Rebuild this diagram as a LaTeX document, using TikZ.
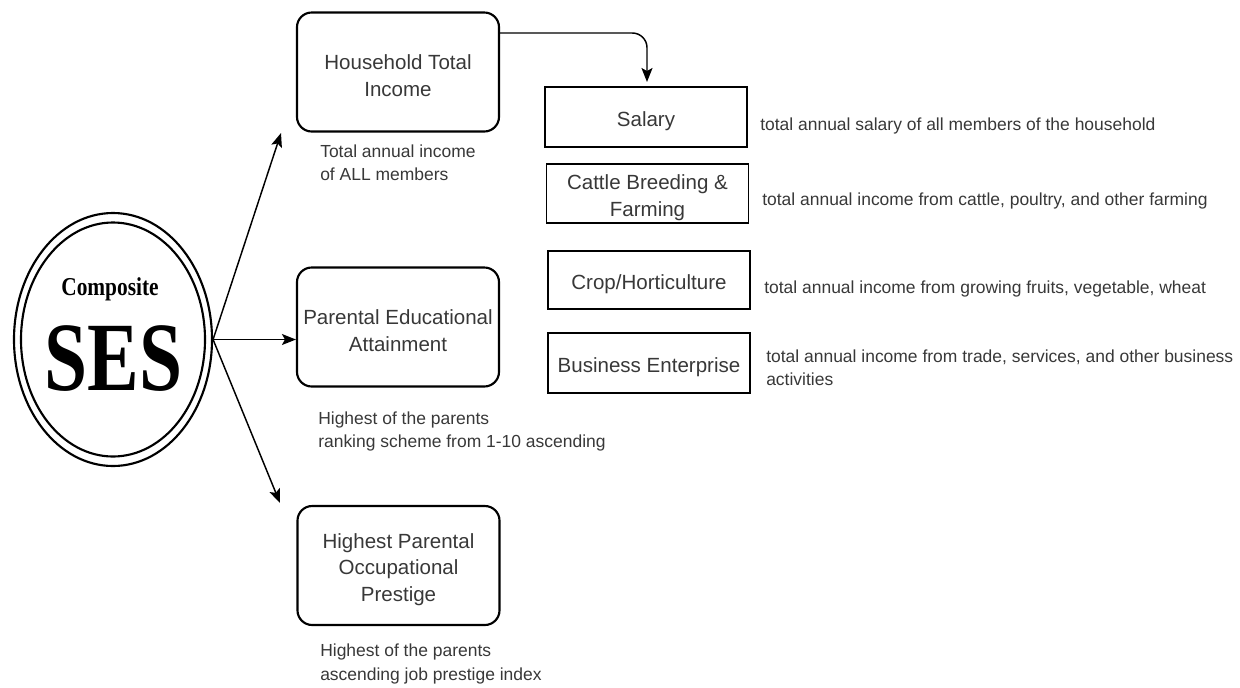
\documentclass[tikz,border=0pt]{standalone}
\usepackage{fontspec}
\setmainfont{Liberation Sans}
\newfontfamily\titleserif{Liberation Serif}
\usetikzlibrary{arrows.meta,shapes.geometric,calc}
\definecolor{textgray}{HTML}{383838}
% taller first line, so box texts sit a little below the box centre
\newcommand{\firstline}{\rule{0pt}{17pt}}

\begin{document}
\begin{tikzpicture}[x=0.75pt,y=-0.75pt,
  boxtext/.style={text=textgray, align=center, font=\fontsize{15.4}{20}\selectfont},
  roundbox/.style={boxtext, draw, line width=1.6pt, rounded corners=11pt,
    minimum width=202*0.75pt, minimum height=119*0.75pt, inner sep=0pt},
  sourcebox/.style={boxtext, draw, line width=1.2pt,
    minimum width=202*0.75pt, minimum height=59*0.75pt, inner sep=0pt},
  note/.style={anchor=west, align=left, inner sep=0pt, text=textgray,
    font=\fontsize{13.1}{17.3}\selectfont},
  link/.style={line width=1.1pt,
    -{Stealth[length=14*0.75pt, width=11*0.75pt, inset=3*0.75pt]}},
  ring/.style={ellipse, draw, line width=1.6pt, inner sep=0pt}
]
\useasboundingbox (0,0) rectangle (1240,687);

% composite SES ellipse (double ring)
\node[ring, minimum width=198*0.75pt, minimum height=253*0.75pt] (ses) at (113,339.5) {};
\node[ring, minimum width=184*0.75pt, minimum height=234*0.75pt] (sesin) at (113,339.5) {};
\node[anchor=base, inner sep=0pt] (sestop) at (110,295)
  {\scalebox{0.83}[1]{\titleserif\bfseries\fontsize{19.3}{22}\selectfont Composite}};
\node[anchor=base, inner sep=0pt] (sesword) at (113.5,390)
  {\scalebox{0.79}[1]{\titleserif\bfseries\fontsize{73.5}{80}\selectfont SES}};

% the three components
\node[roundbox] (hti) at (398,72) {\firstline Household Total\\Income};
\node[roundbox] (pea) at (398,327) {\firstline Parental Educational\\Attainment};
\node[roundbox] (hpop) at (398.5,565.5) {\firstline Highest Parental\\Occupational\\Prestige};

\node[note] (htinote) at (320,163) {Total annual income\\of ALL members};
\node[note] (peanote) at (318,431.5) {Highest of the parents\\ranking scheme from 1-10 ascending};
\node[note] (hpopnote) at (320,664) {Highest of the parents\\ascending job prestige index};

% income sources
\node[sourcebox, minimum height=60*0.75pt] (salary) at (646,117) {\firstline Salary};
\node[sourcebox] (cattle) at (647.5,193.5) {\firstline Cattle Breeding \&\\Farming};
\node[sourcebox, minimum height=58*0.75pt] (crop) at (649,280) {\firstline Crop/Horticulture};
\node[sourcebox, minimum height=60*0.75pt] (business) at (649,363) {\firstline Business Enterprise};

\node[note] (salarynote) at (760,125.5) {total annual salary of all members of the household};
\node[note] (cattlenote) at (762,200.5) {total annual income from cattle, poultry, and other farming};
\node[note] (cropnote) at (764,288.5) {total annual income from growing fruits, vegetable, wheat};
\node[note] (businessnote) at (766,367.5) {total annual income from trade, services, and other business\\activities};

% connectors
\coordinate (htiin) at (281,133);
\coordinate (hpopin) at (280,503);
\coordinate (htiout) at (499,33);
\coordinate (salaryin) at (647,82);

\draw[link] (ses.east) -- (htiin);
\draw[link] (ses.east) -- (ses.east -| pea.west);
\draw[link] (ses.east) -- (hpopin);
\draw[link, rounded corners=11pt] (htiout) -| (salaryin);
\end{tikzpicture}
\end{document}
